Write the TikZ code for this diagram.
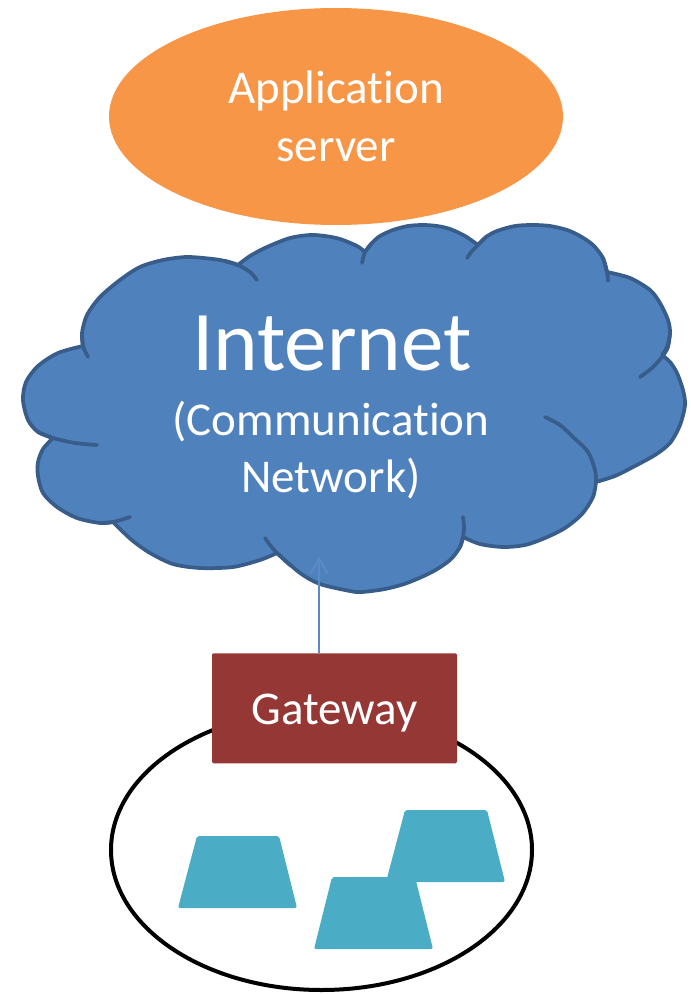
\documentclass[tikz,border=0pt]{standalone}
\usepackage{fontspec}
\setmainfont{Carlito}[Ligatures=NoCommon]
\usetikzlibrary{shapes.geometric,arrows.meta}
\definecolor{srvorange}{HTML}{F79646}
\definecolor{netblue}{HTML}{4F81BD}
\definecolor{netedge}{HTML}{385D8A}
\definecolor{linkblue}{HTML}{5A8BC8}
\definecolor{gwred}{HTML}{953735}
\definecolor{devcyan}{HTML}{4BACC6}
\begin{document}
\begin{tikzpicture}[x=0.75pt,y=-0.75pt,
  cloudline/.style={draw=netedge, line width=2.8pt, line join=round, line cap=round},
  whitetext/.style={text=white, inner sep=0pt, align=center},
  midfont/.style={font=\fontsize{35.25}{43.5}\selectfont},
  device/.style={fill=devcyan, rounded corners=1.5pt},
  link/.style={draw=linkblue, line width=1.5pt, -{Straight Barb[length=11pt,width=13pt]}}]
\useasboundingbox (0,0) rectangle (691,994);

% application server (multi-line text is anchored at its last baseline)
\node[ellipse, fill=srvorange, minimum width=340.5pt, minimum height=162.75pt, inner sep=0pt]
  (appsrv) at (336,116.5) {};
\node[whitetext, midfont, anchor=base] (appsrvtext) at (336,162) {Application\\server};

% the Internet cloud: outer outline made of bumps
\path[fill=netblue, cloudline]
  plot[smooth] coordinates {(83,346) (58,353) (38,366) (26,382) (23,400) (28,420) (38,432) (53,438)}
  -- plot[smooth] coordinates {(53,438) (43,449) (38,462) (38,476) (43,493) (57,507) (77,518) (100,523) (113,522)}
  -- plot[smooth] coordinates {(113,522) (121,530) (133,541) (150,553) (173,564) (200,568) (233,567) (260,560) (277,553)}
  -- plot[smooth] coordinates {(277,553) (300,573) (320,584) (350,591) (362,592) (385,589) (407,583) (432,572) (450,560) (460,547) (463,537)}
  -- plot[smooth] coordinates {(463,537) (480,544) (503,547) (525,545) (545,538) (565,528) (582,514) (593,497) (596,482)}
  -- plot[smooth] coordinates {(596,482) (615,476) (633,467) (655,455) (670,443) (680,425) (685,405) (683,390) (677,373) (670,362) (662,355)}
  -- plot[smooth] coordinates {(662,355) (667,347) (670,333) (668,320) (660,303) (650,290) (630,278) (607,272)}
  -- plot[smooth] coordinates {(607,272) (603,258) (593,245) (580,236) (567,230) (550,226) (533,225) (515,226) (497,231) (486,237) (478,245)}
  -- plot[smooth] coordinates {(478,245) (465,236) (450,229) (437,226) (423,225) (408,226) (393,230) (380,236) (372,243) (365,252)}
  -- plot[smooth] coordinates {(365,252) (357,246) (340,239) (325,236) (310,235) (290,238) (267,247) (250,256) (238,265)}
  -- plot[smooth] coordinates {(238,265) (225,261) (213,259) (187,257) (163,260) (140,267) (120,280) (100,297) (87,315) (82,333) (83,346)}
  -- cycle;
% inner continuations of the bumps
\draw[cloudline] plot[smooth] coordinates {(82,333) (83,346) (88,357)};
\draw[cloudline] plot[smooth] coordinates {(225,261) (238,265) (250,272) (257,280)};
\draw[cloudline] plot[smooth] coordinates {(372,243) (365,252) (362,263)};
\draw[cloudline] plot[smooth] coordinates {(486,237) (478,245) (472,251) (467,258)};
\draw[cloudline] plot[smooth] coordinates {(603,258) (607,272) (608,281)};
\draw[cloudline] plot[smooth] coordinates {(670,333) (668,347) (662,357) (652,368) (640,377)};
\draw[cloudline] plot[smooth] coordinates {(596,482) (595,470) (588,452) (573,437) (560,425) (545,417)};
\draw[cloudline] plot[smooth] coordinates {(460,547) (463,537) (464,527) (463,517)};
\draw[cloudline] plot[smooth] coordinates {(265,538) (270,545) (277,553) (290,565)};
\draw[cloudline] plot[smooth] coordinates {(100,523) (113,522) (130,517)};
\draw[cloudline] plot[smooth] coordinates {(38,432) (53,438) (75,443) (97,445)};

\node[whitetext, font=\fontsize{63.75}{70}\selectfont, anchor=base] (internet) at (332,370) {Internet};
\node[whitetext, font=\fontsize{35.25}{42.75}\selectfont, anchor=base] (commnet) at (331,492)
  {(Communication\\Network)};

% local network with its devices
\node[ellipse, draw=black, line width=3pt, minimum width=315.75pt, minimum height=210pt, inner sep=0pt]
  (lan) at (321.5,850) {};
\fill[device] (197,836) -- (279,836) -- (297,908) -- (178,908) -- cycle;
\fill[device] (405,810) -- (487,810) -- (505,882) -- (386,882) -- cycle;
\fill[device] (332,877) -- (415,877) -- (433,949) -- (314,949) -- cycle;

% gateway
\node[fill=gwred, rounded corners=1pt, minimum width=183.75pt, inner sep=0pt,
      text height=53.25pt, text depth=29.25pt, text=white, midfont, anchor=north]
  (gateway) at (334.5,653) {Gateway};

\coordinate (uplink) at (319,557);
\draw[link] (gateway.north -| uplink) -- (uplink);
\end{tikzpicture}
\end{document}
